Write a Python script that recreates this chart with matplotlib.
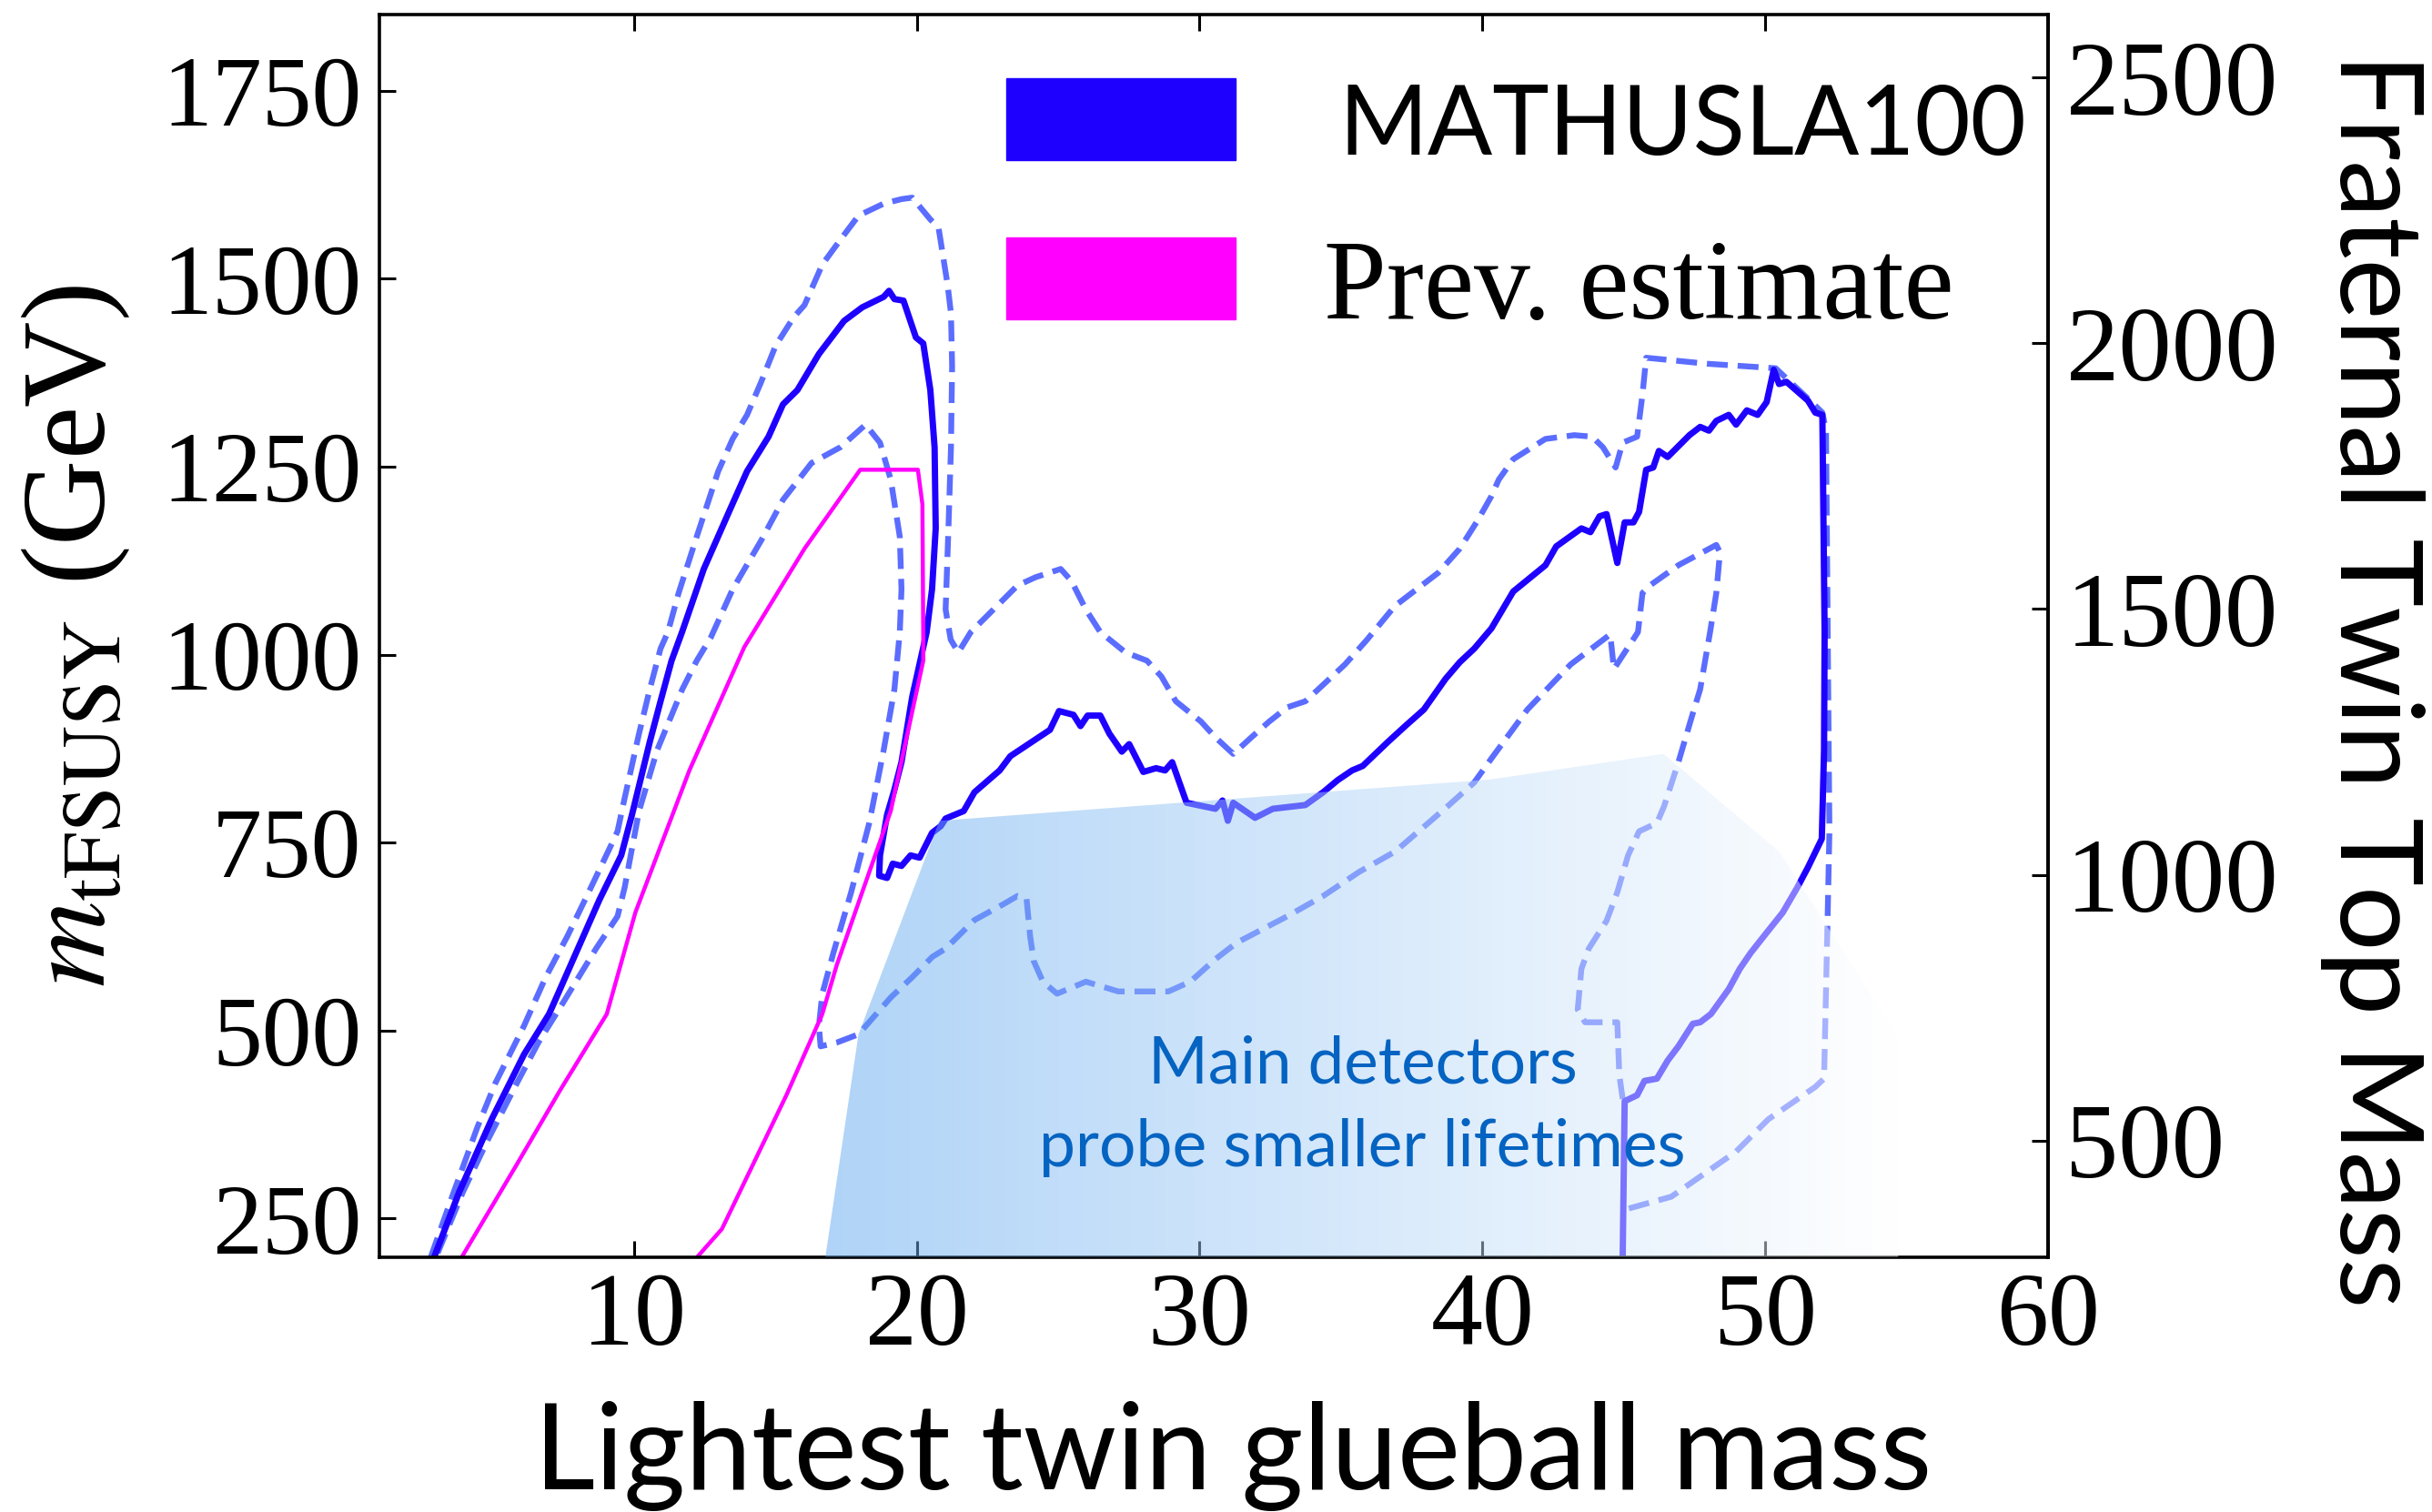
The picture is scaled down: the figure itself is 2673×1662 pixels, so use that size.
import numpy as np
import matplotlib
matplotlib.use("Agg")
import matplotlib.pyplot as plt
from matplotlib.patches import Polygon, Rectangle

# MATHUSLA100 reach, central curve
math_pts = [
    (2.93, 198), (3.82, 285), (4.97, 382), (6.11, 468), (7.0, 522), (8.02, 609),
    (8.78, 674), (9.55, 733), (9.93, 787), (10.56, 884), (10.94, 938), (11.33, 992),
    (11.7, 1030), (12.47, 1114), (13.36, 1190), (14.0, 1244), (14.76, 1290),
    (15.27, 1333), (15.78, 1352), (16.54, 1400), (17.43, 1444), (18.07, 1462),
    (18.83, 1476), (19.02, 1484), (19.21, 1473), (19.53, 1471), (19.97, 1422),
    (20.23, 1414), (20.48, 1352), (20.63, 1276), (20.67, 1168), (20.54, 1087),
    (20.35, 1030), (19.84, 944), (19.46, 857), (19.2, 819), (18.95, 787), (18.7, 733),
    (18.67, 706), (18.95, 703), (19.15, 722), (19.46, 719), (19.78, 733), (20.1, 730),
    (20.54, 763), (20.85, 772), (21.02, 782), (21.66, 792), (22.04, 817), (22.93, 846),
    (23.31, 865), (23.95, 881), (24.71, 900), (25.03, 925), (25.54, 920), (25.79, 905),
    (26.04, 919), (26.49, 919), (26.81, 895), (27.25, 871), (27.51, 881), (28.01, 844),
    (28.46, 849), (28.78, 846), (29.03, 857), (29.54, 803), (30.05, 799), (30.56, 795),
    (30.81, 806), (31.0, 779), (31.19, 803), (31.96, 783), (32.59, 795), (33.74, 800),
    (34.37, 817), (34.88, 833), (35.39, 846), (35.77, 852), (36.66, 884), (37.3, 906),
    (37.93, 927), (38.7, 968), (39.2, 990), (39.71, 1008), (40.32, 1035), (41.09, 1084),
    (42.23, 1119), (42.61, 1144), (43.5, 1168), (43.82, 1163), (44.14, 1184),
    (44.39, 1187), (44.77, 1122), (45.03, 1176), (45.34, 1176), (45.54, 1190),
    (45.79, 1246), (46.04, 1249), (46.24, 1271), (46.55, 1263), (47.32, 1292),
    (47.7, 1303), (48.01, 1298), (48.27, 1311), (48.71, 1319), (48.97, 1306),
    (49.35, 1325), (49.73, 1319), (50.05, 1336), (50.3, 1379), (50.49, 1360),
    (50.75, 1363), (51.51, 1338), (51.77, 1322), (52.02, 1319), (52.1, 1030),
    (52.08, 873), (52.0, 755), (51.51, 717), (51.13, 690), (50.62, 657), (50.11, 633),
    (49.48, 603), (49.1, 582), (48.71, 555), (48.08, 522), (47.7, 511), (47.44, 509),
    (46.93, 479), (46.55, 460), (46.17, 436), (45.73, 433), (45.47, 414), (45.03, 406),
    (44.96, 199),
]

# upper edge of the band
hi_pts = [
    (2.81, 198), (3.57, 279), (4.46, 371), (5.1, 430), (6.11, 506), (6.88, 571),
    (7.64, 625), (8.4, 684), (9.16, 744), (9.42, 765), (9.67, 809), (10.18, 895),
    (10.56, 954), (10.94, 1008), (11.2, 1030), (11.58, 1082), (12.22, 1157),
    (12.98, 1244), (13.49, 1287), (14.0, 1319), (14.5, 1363), (15.01, 1411),
    (15.65, 1449), (16.03, 1465), (16.66, 1519), (17.3, 1552), (17.94, 1584),
    (18.83, 1600), (19.46, 1606), (19.84, 1608), (20.48, 1579), (20.77, 1568),
    (21.09, 1492), (21.21, 1454), (21.25, 1384), (21.21, 1276), (21.12, 1168),
    (21.02, 1060), (21.2, 1020), (21.47, 1003), (21.91, 1030), (23.56, 1092),
    (24.2, 1103), (25.09, 1114), (25.47, 1098), (25.98, 1060), (26.49, 1030),
    (27.38, 1003), (28.14, 992), (28.65, 971), (29.16, 938), (30.05, 911),
    (30.56, 890), (31.19, 868), (31.83, 890), (32.46, 911), (33.1, 930), (33.74, 938),
    (34.37, 960), (35.14, 987), (35.9, 1019), (36.91, 1065), (38.44, 1109),
    (39.2, 1141), (39.84, 1179), (40.32, 1211), (40.58, 1233), (41.09, 1260),
    (42.23, 1287), (43.25, 1292), (43.88, 1290), (44.26, 1276), (44.71, 1249),
    (44.96, 1282), (45.47, 1290), (45.66, 1346), (45.79, 1395), (47.95, 1387),
    (50.37, 1381), (51.64, 1336), (52.02, 1322), (52.15, 1298), (52.21, 1030),
    (52.27, 765), (52.21, 657), (52.08, 436), (51.77, 425), (50.11, 382),
    (48.97, 339), (46.68, 279), (45.15, 263),
]

# lower edge of the band
lo_pts = [
    (3.06, 204), (3.95, 285), (4.84, 355), (5.86, 430), (6.62, 484), (7.51, 538),
    (8.66, 609), (9.42, 652), (9.67, 690), (10.18, 792), (10.82, 873), (11.71, 954),
    (12.22, 992), (12.72, 1023), (13.49, 1087), (14.5, 1152), (15.27, 1206),
    (16.28, 1255), (17.3, 1276), (18.19, 1306), (18.7, 1282), (19.08, 1233),
    (19.4, 1157), (19.46, 1087), (19.4, 1030), (19.21, 954), (18.83, 873),
    (18.32, 776), (17.68, 684), (17.05, 603), (16.66, 549), (16.54, 506), (16.6, 479),
    (17.17, 484), (17.94, 495), (19.08, 544), (19.84, 571), (20.55, 598), (21.02, 609),
    (22.04, 647), (23.06, 668), (23.56, 679), (23.88, 676), (24.01, 625), (24.14, 592),
    (24.46, 565), (24.96, 549), (25.98, 565), (27.13, 552), (28.9, 552), (29.67, 565),
    (30.56, 595), (31.32, 617), (33.1, 652), (34.37, 679), (35.64, 711), (36.91, 738),
    (37.93, 771), (38.82, 800), (39.71, 830), (40.32, 862), (41.59, 927), (43.12, 987),
    (44.52, 1027), (44.65, 981), (45.5, 1030), (45.66, 1082), (45.92, 1092),
    (46.93, 1119), (48.27, 1146), (48.4, 1136), (48.27, 1082), (48.05, 1030),
    (47.7, 954), (47.44, 922), (46.93, 857), (46.42, 798), (46.17, 776), (45.54, 765),
    (45.15, 733), (44.77, 684), (44.39, 646), (43.76, 609), (43.5, 582), (43.37, 528),
    (43.63, 511), (44.77, 511), (44.84, 441), (44.96, 409),
]

# previous estimate
prev_pts = [
    (3.95, 201), (5.86, 322), (7.38, 420), (9.04, 522), (10.05, 657), (11.96, 846),
    (13.9, 1010), (16.03, 1141), (18.0, 1246), (20.04, 1246), (20.2, 1200),
    (20.23, 1023), (20.23, 992), (19.08, 792), (18.07, 684), (17.17, 587),
    (16.66, 522), (15.39, 414), (13.11, 236), (12.22, 198),
]

# region already covered by the main detectors
main_x = [16.77, 17.94, 20.8, 40.3, 46.4, 50.5, 54.7, 54.7]
main_y = [199, 495, 779, 834, 868, 738, 490, 199]

xticks = [10, 20, 30, 40, 50, 60]
yticks_left = [250, 500, 750, 1000, 1250, 1500, 1750]
yticks_right = [500, 1000, 1500, 2000, 2500]
ylim_left = (199, 1852)

plt.rcParams['font.family'] = ['Liberation Serif', 'DejaVu Serif']
plt.rcParams['mathtext.fontset'] = 'stix'

W, H = 2673, 1662
fig = plt.figure(figsize=(W / 100, H / 100), dpi=100)
ax = fig.add_axes([417 / W, 1 - 1381.5 / H, (2251 - 417) / W, (1381.5 - 15.6) / H])

blue = '#1e00ff'
dash_blue = '#5b6dff'
magenta = '#ff00ff'

x, y = zip(*hi_pts)
ax.plot(x, y, color=dash_blue, lw=4.6, dashes=(3.6, 1.7), zorder=2)
x, y = zip(*lo_pts)
ax.plot(x, y, color=dash_blue, lw=4.6, dashes=(3.6, 1.7), zorder=2)
x, y = zip(*math_pts)
ax.plot(x, y, color=blue, lw=5.0, zorder=2.1)
x, y = zip(*prev_pts)
ax.plot(x, y, color=magenta, lw=3.2, zorder=2.1)

# translucent blue-to-white wash over the main detector region
x0, x1 = min(main_x), max(main_x)
y0, y1 = min(main_y), max(main_y)
t = np.linspace(0, 1, 256)
c0 = np.array([0.38, 0.66, 0.94])
grad = np.zeros((1, 256, 4))
grad[0, :, :3] = c0 + (1 - c0) * t[:, None]
grad[0, :, 3] = 0.5
im = ax.imshow(grad, extent=[x0, x1, y0, y1], aspect='auto', origin='lower',
               interpolation='bilinear', zorder=3)
region = Polygon(list(zip(main_x, main_y)), closed=True, transform=ax.transData)
im.set_clip_path(region)

ax.text(35.76, 430, 'Main detectors', ha='center', va='baseline',
        color='#0563c1', fontsize=51, family='Lato', zorder=4)
ax.text(35.76, 320, 'probe smaller lifetimes', ha='center', va='baseline',
        color='#0563c1', fontsize=51.5, family='Lato', zorder=4)

# legend drawn by hand
ax.add_patch(Rectangle((0.3757, 0.8826), 0.1374, 0.0659, transform=ax.transAxes,
                       color=blue, zorder=4))
ax.add_patch(Rectangle((0.3757, 0.7544), 0.1374, 0.066, transform=ax.transAxes,
                       color=magenta, zorder=4))
ax.text(0.5747, 0.887, 'MATHUSLA100', transform=ax.transAxes, ha='left',
        va='baseline', fontsize=76, family='Lato', zorder=4)
ax.text(0.566, 0.7552, 'Prev. estimate', transform=ax.transAxes, ha='left',
        va='baseline', fontsize=89, zorder=4)

ax.set_xlim(1, 60)
ax.set_ylim(*ylim_left)
ax.set_xticks(xticks)
ax.set_xticklabels([str(v) for v in xticks])
ax.set_yticks(yticks_left)
ax.tick_params(direction='in', length=13, width=2.2, top=True, right=False)
ax.tick_params(axis='y', labelsize=79, pad=14)
ax.tick_params(axis='x', labelsize=82, pad=12)
for s in ax.spines.values():
    s.set_linewidth(2.6)

ax2 = ax.twinx()
ax2.set_ylim(ylim_left[0] * np.sqrt(2), ylim_left[1] * np.sqrt(2))
ax2.set_yticks(yticks_right)
ax2.tick_params(direction='in', length=13, width=2.2, labelsize=84, pad=14)
for k in ['left', 'top', 'bottom']:
    ax2.spines[k].set_visible(False)
ax2.spines['right'].set_linewidth(2.6)

fig.text(145 / W, 1 - 699 / H, r'$m_{\mathrm{tFSUSY}}$ (GeV)', rotation=90,
         ha='right', va='center', fontsize=94)
fig.text(2608 / W, 1 - 748 / H, 'Fraternal Twin Top Mass', rotation=270,
         ha='center', va='center', fontsize=91, family='Lato')
fig.text(1355 / W, 0.015, 'Lightest twin glueball mass', ha='center',
         va='baseline', fontsize=94, family='Lato')

fig.savefig('out.png', dpi=100)
